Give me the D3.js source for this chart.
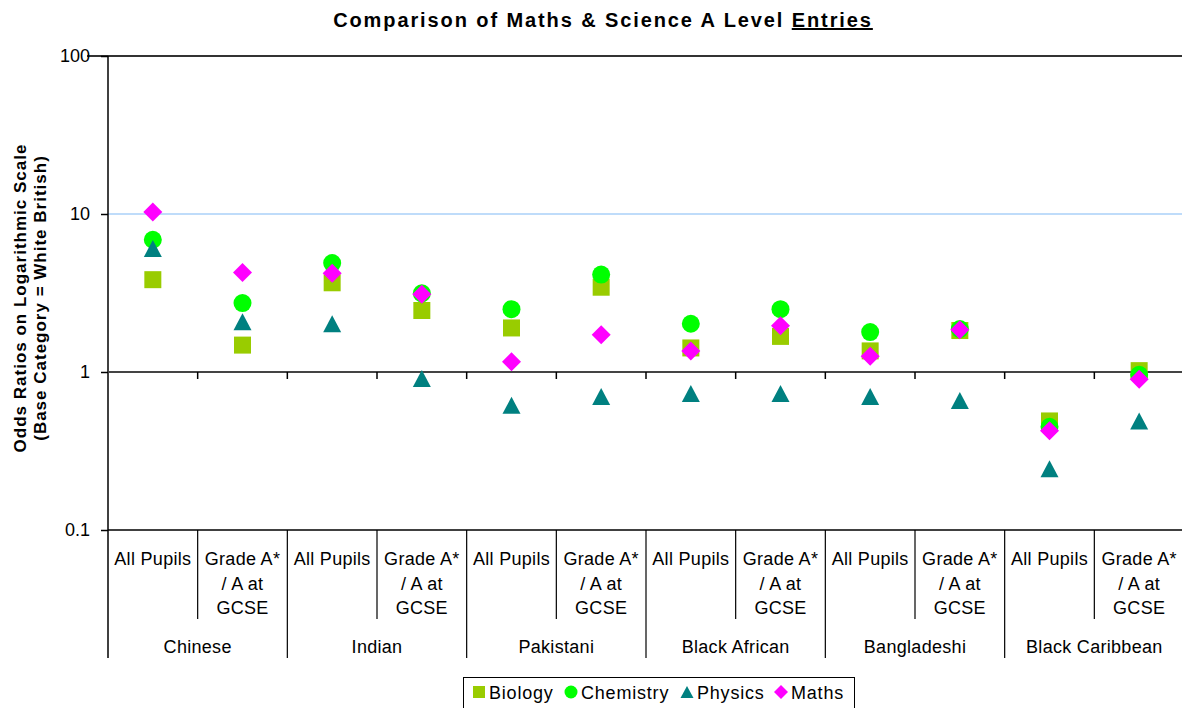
<!DOCTYPE html>
<html>
<head>
<meta charset="utf-8">
<script src="https://cdn.jsdelivr.net/npm/d3@7"></script>
<style>
  body { margin: 0; background: #fff; }
  text { font-family: "Liberation Sans", Arial, sans-serif; }
</style>
</head>
<body>
<div id="chart"></div>
<script>

// ----- data -----
var groups = ["Chinese", "Indian", "Pakistani", "Black African", "Bangladeshi", "Black Caribbean"];
var subcats = ["All Pupils", "Grade A*|/ A at|GCSE"];
var yTicks = [0.1, 1, 10, 100];

var biology   = [3.84, 1.48, 3.67, 2.45, 1.90, 3.44, 1.42, 1.68, 1.36, 1.83, 0.49, 1.02];
var chemistry = [6.87, 2.73, 4.89, 3.15, 2.50, 4.14, 2.02, 2.50, 1.79, 1.87, 0.45, 0.96];
var physics   = [6.05, 2.08, 2.02, 0.91, 0.615, 0.70, 0.73, 0.73, 0.70, 0.66, 0.244, 0.49];
var maths     = [10.3, 4.26, 4.22, 3.10, 1.16, 1.72, 1.36, 1.96, 1.26, 1.85, 0.425, 0.90];

var series = [
    {name: "Biology",   values: biology,   shape: "square",   color: "#99cc00"},
    {name: "Chemistry", values: chemistry, shape: "circle",   color: "#00ff00"},
    {name: "Physics",   values: physics,   shape: "triangle", color: "#008080"},
    {name: "Maths",     values: maths,     shape: "diamond",  color: "#ff00ff"}
];

// one key per column (group + subcategory)
var columns = [];
groups.forEach(function(g) {
    subcats.forEach(function(s) { columns.push(g + "/" + s); });
});

// ----- svg -----
var width = 1182, height = 708;
var margin = {top: 56, left: 108, right: -2, bottom: 178};

var svg = d3.select("#chart").append("svg")
    .attr("width", width)
    .attr("height", height);

var x = d3.scaleBand()
    .domain(columns)
    .range([margin.left, width - margin.right]);

var xGroup = d3.scaleBand()
    .domain(groups)
    .range([margin.left, width - margin.right]);

var y = d3.scaleLog()
    .domain([0.1, 100])
    .range([height - margin.bottom, margin.top]);

// title
var title = svg.append("text")
    .attr("x", 603)
    .attr("y", 27)
    .attr("text-anchor", "middle")
    .style("font-size", "20px")
    .style("letter-spacing", "1.9px")
    .style("font-weight", "bold");
title.append("tspan").text("Comparison of Maths & Science A Level ");
title.append("tspan").style("text-decoration", "underline").text("Entries");

// y axis label
var yl = svg.append("text")
    .attr("transform", "translate(26,298) rotate(-90)")
    .attr("text-anchor", "middle")
    .style("font-size", "17px")
    .style("letter-spacing", "1px")
    .style("font-weight", "bold");
yl.append("tspan").attr("x", 0).attr("dy", 0).text("Odds Ratios on Logarithmic Scale");
yl.append("tspan").attr("x", 0).attr("dy", "1.2em").text("(Base Category = White British)");

// gridlines
svg.append("line")
    .attr("x1", margin.left).attr("x2", width)
    .attr("y1", y(10)).attr("y2", y(10))
    .style("stroke", "#bfdcfa").style("stroke-width", 2);
svg.append("line")
    .attr("x1", 87).attr("x2", width)
    .attr("y1", y(100)).attr("y2", y(100))
    .style("stroke", "#333").style("stroke-width", 2);
svg.append("line")
    .attr("x1", margin.left).attr("x2", width)
    .attr("y1", y(0.1)).attr("y2", y(0.1))
    .style("stroke", "#000").style("stroke-width", 1.5);

// y axis
var yAxis = d3.axisLeft(y)
    .tickValues(yTicks)
    .tickSize(7)
    .tickFormat(function(d) { return String(d); });

var gy = svg.append("g")
    .attr("transform", "translate(" + margin.left + ",0)")
    .call(yAxis);
gy.select(".domain").remove();
gy.selectAll(".tick line").style("stroke", "#000").style("stroke-width", 1.5);
gy.selectAll(".tick text")
    .attr("x", -18)
    .style("font-size", "18px")
    .style("font-family", "Liberation Sans, Arial, sans-serif")
    .style("fill", "#000");

svg.append("line")
    .attr("x1", margin.left).attr("x2", margin.left)
    .attr("y1", margin.top).attr("y2", 658)
    .style("stroke", "#000").style("stroke-width", 1.5);

// horizontal axis crossing at 1, ticks between columns
svg.append("line")
    .attr("x1", margin.left).attr("x2", width)
    .attr("y1", y(1)).attr("y2", y(1))
    .style("stroke", "#444").style("stroke-width", 2);
svg.selectAll(".xtick")
    .data(columns.slice(1))
    .enter().append("line")
    .attr("class", "xtick")
    .attr("x1", function(d) { return x(d); })
    .attr("x2", function(d) { return x(d); })
    .attr("y1", y(1))
    .attr("y2", y(1) + 7)
    .style("stroke", "#000").style("stroke-width", 1.5);

// category table below
var base = y(0.1);
svg.selectAll(".subsep")
    .data(columns.slice(1))
    .enter().append("line")
    .attr("x1", function(d) { return x(d); })
    .attr("x2", function(d) { return x(d); })
    .attr("y1", base)
    .attr("y2", function(d, i) { return (i % 2 == 0) ? base + 89 : 658; })
    .style("stroke", "#000").style("stroke-width", 1.2);

svg.selectAll(".sublabel")
    .data(columns)
    .enter().append("text")
    .attr("text-anchor", "middle")
    .style("font-size", "18px")
    .style("letter-spacing", "0.3px")
    .each(function(d) {
        var lines = d.split("/").slice(1).join("/").split("|");
        var t = d3.select(this);
        lines.forEach(function(l, k) {
            t.append("tspan")
                .attr("x", x(d) + x.bandwidth() / 2)
                .attr("y", base + 35 + k * 24.5)
                .text(l);
        });
    });

svg.selectAll(".grouplabel")
    .data(groups)
    .enter().append("text")
    .attr("x", function(d) { return xGroup(d) + xGroup.bandwidth() / 2; })
    .attr("y", 653)
    .attr("text-anchor", "middle")
    .style("font-size", "18px")
    .style("letter-spacing", "0.3px")
    .text(function(d) { return d; });

// markers
function markerPath(shape, s) {
    var h = s / 2;
    if (shape == "square") return "M" + (-h) + "," + (-h) + "h" + s + "v" + s + "h" + (-s) + "Z";
    if (shape == "triangle") return "M0," + (-h) + "L" + (h + 0.5) + "," + h + "L" + (-h - 0.5) + "," + h + "Z";
    if (shape == "diamond") return "M0," + (-h - 1) + "L" + (h + 1) + ",0L0," + (h + 1) + "L" + (-h - 1) + ",0Z";
    return d3.arc()({innerRadius: 0, outerRadius: h + 0.5, startAngle: 0, endAngle: 2 * Math.PI});
}

series.forEach(function(s) {
    svg.selectAll(".pt-" + s.name)
        .data(s.values)
        .enter().append("path")
        .attr("class", "pt-" + s.name)
        .attr("d", markerPath(s.shape, 17))
        .attr("transform", function(d, i) {
            return "translate(" + (x(columns[i]) + x.bandwidth() / 2) + "," + y(d) + ")";
        })
        .style("fill", s.color);
});

// legend
var legend = svg.append("g");
legend.append("rect")
    .attr("x", 463.5).attr("y", 677.5)
    .attr("width", 391).attr("height", 40)
    .style("fill", "#fff").style("stroke", "#000").style("stroke-width", 1);

var legendX = [479, 571, 687, 781];
series.forEach(function(s, i) {
    legend.append("path")
        .attr("d", markerPath(s.shape, 12))
        .attr("transform", "translate(" + legendX[i] + ",692)")
        .style("fill", s.color);
    legend.append("text")
        .attr("x", legendX[i] + 10)
        .attr("y", 699)
        .style("font-size", "18px")
        .style("letter-spacing", "0.8px")
        .text(s.name);
});

</script>
</body>
</html>
